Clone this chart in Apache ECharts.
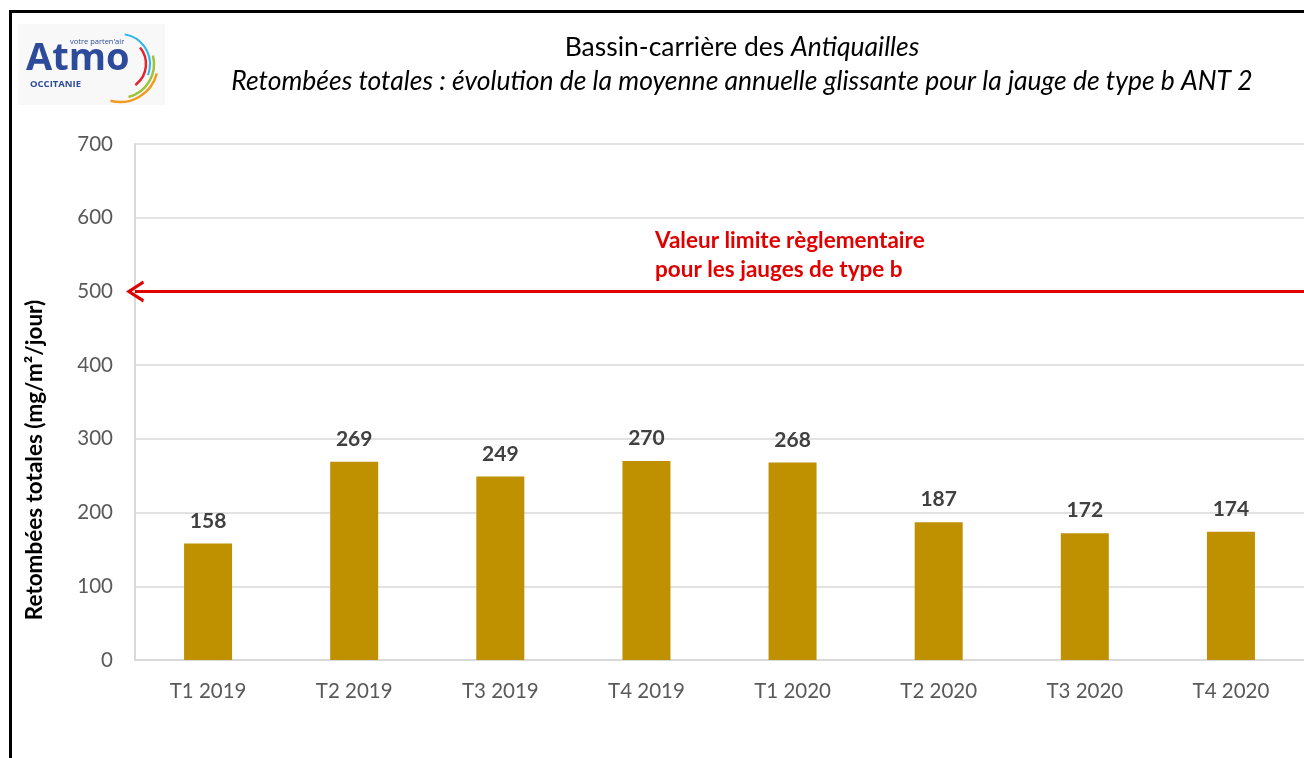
<!DOCTYPE html>
<html>
<head>
<meta charset="utf-8">
<script src="https://cdn.jsdelivr.net/npm/echarts@6/dist/echarts.min.js"></script>
<style>
  html, body { margin: 0; padding: 0; background: #fff; }
  #chart { width: 1304px; height: 758px; }
</style>
</head>
<body>
<div id="chart"></div>
<script>
// données
var trimestres = ['T1 2019', 'T2 2019', 'T3 2019', 'T4 2019', 'T1 2020', 'T2 2020', 'T3 2020', 'T4 2020'];
var retombees = [158, 269, 249, 270, 268, 187, 172, 174];
var valeurLimite = 500;
var yMin = 0, yMax = 700, yStep = 100;

var police = 'Lato, "Open Sans", sans-serif';

var myChart = echarts.init(document.getElementById('chart'));

// flèche ouverte (pointe vers le haut avant rotation)
var chevron = 'path://M0,10 L5,0 L10,10 L8.6,10.6 L5,3.4 L1.4,10.6 Z';

var option = {
    backgroundColor: '#fff',
    animation: false,
    grid: {
        left: 135,
        top: 144,
        width: 1176,
        height: 516
    },
    xAxis: {
        type: 'category',
        data: trimestres,
        axisLine: { show: true, lineStyle: { color: '#d9d9d9', width: 2 } },
        axisTick: { show: false },
        axisLabel: { color: '#595959', fontSize: 20.5, fontFamily: police, margin: 21 }
    },
    yAxis: {
        type: 'value',
        min: yMin,
        max: yMax,
        interval: yStep,
        axisLine: { show: true, lineStyle: { color: '#d9d9d9', width: 2 } },
        axisTick: { show: false },
        splitLine: { lineStyle: { color: '#d9d9d9', width: 1.5 } },
        axisLabel: { color: '#595959', fontSize: 20.5, fontFamily: police, margin: 22 }
    },
    series: [{
        name: 'Retombées totales',
        type: 'bar',
        data: retombees,
        barWidth: 48,
        itemStyle: { color: '#bf9000' },
        label: {
            show: true,
            position: 'top',
            distance: 12,
            color: '#404040',
            fontWeight: 'bold',
            fontSize: 21,
            fontFamily: police
        },
        markLine: {
            silent: true,
            symbol: [chevron, 'none'],
            symbolSize: [22, 18],
            symbolOffset: [0, 0],
            lineStyle: { color: '#e00000', width: 3, type: 'solid' },
            label: { show: false },
            data: [{ yAxis: valeurLimite }]
        }
    }],
    graphic: [
        // cadre
        { type: 'rect', shape: { x: 9, y: 10, width: 3, height: 748 }, style: { fill: '#000' }, silent: true },
        { type: 'rect', shape: { x: 9, y: 10, width: 1295, height: 3 }, style: { fill: '#000' }, silent: true },
        // titre
        {
            type: 'text', x: 742, y: 47,
            style: {
                text: '{n|Bassin-carrière des }{i|Antiquailles}',
                align: 'center', verticalAlign: 'middle',
                rich: {
                    n: { fontSize: 26.5, fontFamily: police, fill: '#000' },
                    i: { fontSize: 26.5, fontFamily: police, fontStyle: 'italic', fill: '#000' }
                }
            }
        },
        {
            type: 'text', x: 742, y: 81,
            style: {
                text: 'Retombées totales : évolution de la moyenne annuelle glissante pour la jauge de type b ANT 2',
                align: 'center', verticalAlign: 'middle',
                fontSize: 26.5, fontFamily: police, fontStyle: 'italic', fill: '#000'
            }
        },
        // titre de l'axe
        {
            type: 'text', x: 35, y: 460, rotation: Math.PI / 2,
            style: {
                text: 'Retombées totales (mg/m²/jour)',
                align: 'center', verticalAlign: 'middle',
                fontSize: 22.5, fontWeight: 'bold', fontFamily: police, fill: '#000'
            }
        },
        // annotation valeur limite
        {
            type: 'text', x: 655, y: 255,
            style: {
                text: 'Valeur limite règlementaire\npour les jauges de type b',
                align: 'left', verticalAlign: 'middle', lineHeight: 29,
                fontSize: 22.5, fontWeight: 'bold', fontFamily: police, fill: '#e00000'
            }
        },
        // logo Atmo Occitanie
        {
            type: 'group', x: 0, y: 0, silent: true,
            children: [
                { type: 'rect', shape: { x: 18, y: 24, width: 147, height: 81 }, style: { fill: '#f8f8f8' } },
                { type: 'text', x: 26, y: 59, style: { text: 'Atmo', fontSize: 38, fontWeight: 'bold', fontFamily: '"Open Sans", sans-serif', fill: '#2e4b9b', verticalAlign: 'middle' } },
                { type: 'text', x: 30, y: 84, style: { text: 'OCCITANIE', fontSize: 9.5, fontWeight: 'bold', fontFamily: '"Open Sans", sans-serif', fill: '#2e4b9b', verticalAlign: 'middle' } },
                { type: 'text', x: 70, y: 42, style: { text: "votre parten'air", fontSize: 7.5, fontFamily: '"Open Sans", sans-serif', fill: '#2e4b9b', verticalAlign: 'middle' } },
                { type: 'arc', shape: { cx: 120, cy: 64, r: 30, startAngle: -Math.PI * 0.45, endAngle: Math.PI * 0.12 }, style: { stroke: '#2bb5e6', lineWidth: 2, fill: null } },
                { type: 'arc', shape: { cx: 120, cy: 64, r: 26, startAngle: -Math.PI * 0.22, endAngle: Math.PI * 0.3 }, style: { stroke: '#e0262f', lineWidth: 2.5, fill: null } },
                { type: 'arc', shape: { cx: 120, cy: 64, r: 34, startAngle: -Math.PI * 0.08, endAngle: Math.PI * 0.42 }, style: { stroke: '#9cc43a', lineWidth: 2.5, fill: null } },
                { type: 'arc', shape: { cx: 120, cy: 64, r: 38, startAngle: Math.PI * 0.08, endAngle: Math.PI * 0.58 }, style: { stroke: '#f39a1e', lineWidth: 2.5, fill: null } }
            ]
        }
    ]
};

myChart.setOption(option);
</script>
</body>
</html>
